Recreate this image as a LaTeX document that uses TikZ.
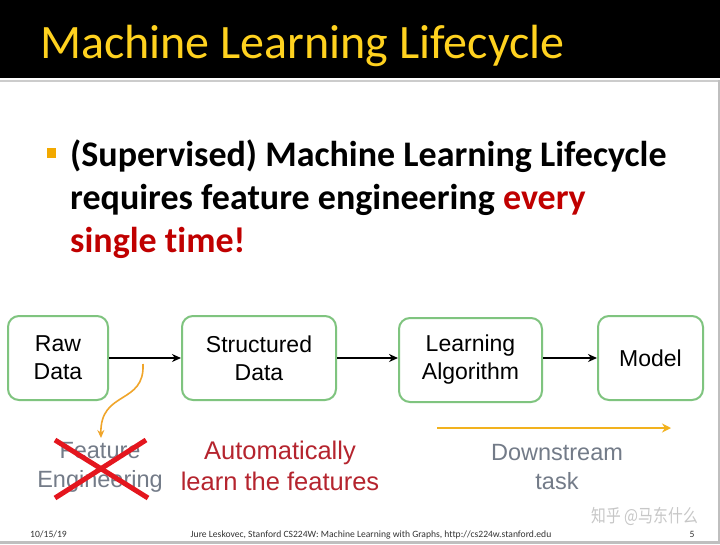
\documentclass[tikz,border=0pt]{standalone}
\usepackage{fontspec}
\setmainfont{Carlito}[Ligatures=NoCommon]
\newfontfamily\diag{Liberation Sans}
\newfontfamily\cjk{Noto Sans CJK SC}
\usetikzlibrary{arrows.meta}
\definecolor{titleyellow}{HTML}{FFD21F}
\definecolor{bulletorange}{HTML}{F2A900}
\definecolor{slidered}{HTML}{C00000}
\definecolor{boxgreen}{HTML}{7FC47F}
\definecolor{curveorange}{HTML}{F0A52A}
\definecolor{linegold}{HTML}{F2B21E}
\definecolor{textgray}{HTML}{737B88}
\definecolor{autored}{HTML}{B5242E}
\definecolor{xred}{HTML}{E4161E}
\tikzset{
  stage/.style={draw=boxgreen, line width=2pt, rounded corners=11pt, fill=white,
    font=\diag\fontsize{23}{28}\selectfont, align=center, inner sep=0pt},
  flow/.style={-{Stealth[length=9pt,width=8pt]}, line width=1.6pt, black},
  note/.style={font=\diag\fontsize{23.5}{29}\selectfont, align=center, inner sep=0pt},
  bodyline/.style={anchor=base west, inner sep=0pt, font=\fontsize{36}{36}\bfseries},
  foottext/.style={inner sep=0pt, font=\fontsize{9.6}{10}\selectfont, text=black!80},
}
\begin{document}
\begin{tikzpicture}[x=1pt,y=-1pt]
\useasboundingbox (0,0) rectangle (720,544);
\fill[white] (0,0) rectangle (720,544);
% header
\fill[black] (0,0) rectangle (720,78);
\fill[black!20] (0,79.5) rectangle (720,82);
\node[anchor=base west, inner sep=0pt, text=titleyellow, font=\fontsize{48}{48}\selectfont] (title) at (40,58) {Machine Learning Lifecycle};
% bullet
\fill[bulletorange] (47,148) rectangle (56,158) coordinate (bul);
\node[bodyline] (l1) at (70,166) {(Supervised) Machine Learning Lifecycle};
\node[bodyline] (l2) at (70,209) {requires feature engineering \textcolor{slidered}{every}};
\node[bodyline, text=slidered] (l3) at (70,252) {single time!};
% boxes
\node[stage, minimum width=100pt, minimum height=84pt] (raw) at (58,358) {Raw\\Data};
\node[stage, minimum width=154pt, minimum height=84pt] (struct) at (259,358) {Structured\\Data};
\node[stage, minimum width=143pt, minimum height=84pt] (learn) at (470.5,360) {Learning\\Algorithm};
\node[stage, minimum width=105pt, minimum height=84pt] (model) at (650.5,358) {Model};
\draw[flow] (raw.east) -- (struct.west);
\draw[flow] (struct.east) -- (learn.west |- struct.east);
\draw[flow] (learn.east |- model.west) -- (model.west);
% feature engineering (crossed out)
\node[note, text=textgray] (feat) at (100,467) {Feature\\Engineering};
\coordinate (cstart) at (143,364);
\draw[curveorange, line width=1.6pt, -{Stealth[length=8pt,width=7pt]}] (cstart) .. controls (145,405) and (100,390) .. (101,438);
\draw[xred, line width=5pt] (55,440) -- (148,498);
\draw[xred, line width=5pt] (55,498) -- (146,440);
% automatically
\node[note, text=autored, font=\diag\fontsize{25.5}{31}\selectfont] (auto) at (280,466) {Automatically\\learn the features};
% downstream
\coordinate (ds1) at (437,428);
\coordinate (ds2) at (671,428);
\draw[linegold, line width=2pt, -{Stealth[length=9pt,width=9pt]}] (ds1) -- (ds2);
\node[note, text=textgray] (down) at (557,467) {Downstream\\task};
% watermark
\node[anchor=base east, inner sep=0pt, text=black!22, font=\cjk\fontsize{18}{18}\selectfont] (wm) at (698,522) {\scalebox{0.82}[1]{知乎 @马东什么}};
% footer
\node[foottext, anchor=base west] (date) at (30,537) {10/15/19};
\node[foottext, anchor=base] (foot) at (371,537) {Jure Leskovec, Stanford CS224W: Machine Learning with Graphs, http://cs224w.stanford.edu};
\node[foottext, anchor=base] (page) at (692,537) {5};
\fill[black!25] (0,540.5) rectangle (720,544);
\fill[black!25] (717.5,80) rectangle (720,544);
\end{tikzpicture}
\end{document}
